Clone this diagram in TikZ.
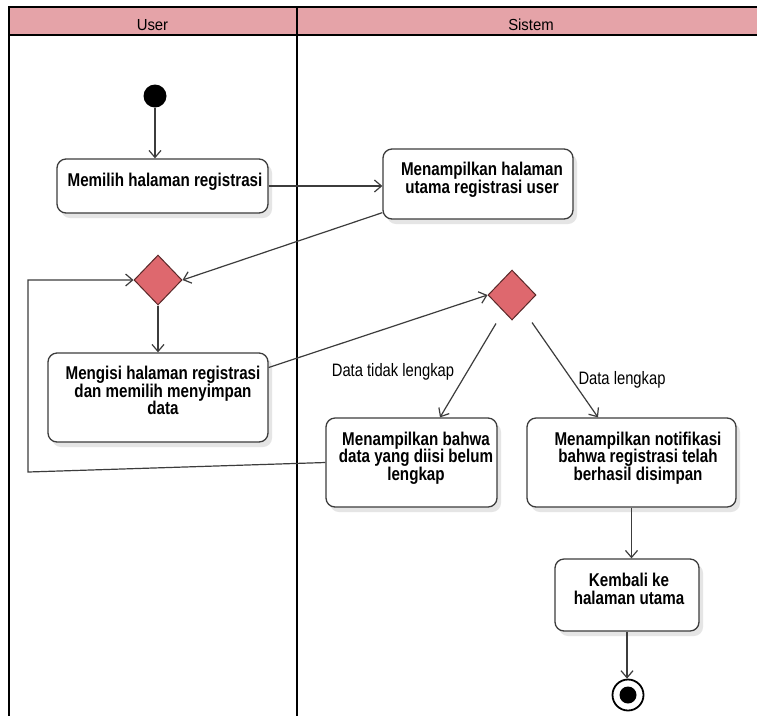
\documentclass[tikz,border=0pt]{standalone}
\usepackage{fontspec}
\setmainfont{Liberation Sans}
\newfontfamily\actfont[FakeStretch=0.82]{Liberation Sans}
\newfontfamily\guardfont[FakeStretch=0.82]{Liberation Sans}
\newfontfamily\lanefont[FakeStretch=0.93]{Liberation Sans}
\usetikzlibrary{arrows.meta,shapes.geometric,shadows}

\definecolor{lanepink}{RGB}{229,163,168}
\definecolor{decred}{RGB}{222,104,110}
\definecolor{decedge}{RGB}{90,40,40}
\definecolor{edgegray}{RGB}{60,60,60}

\begin{document}
\begin{tikzpicture}[x=1pt,y=-1pt,
  actbox/.style={draw=edgegray, line width=1.3pt, rounded corners=9pt, fill=white,
    inner sep=0pt,
    drop shadow={shadow xshift=4pt, shadow yshift=-5pt, fill=black!10, opacity=1}},
  acttext/.style={font={\actfont\bfseries\fontsize{18.5pt}{17.5pt}\selectfont},
    align=center, inner sep=0pt},
  decision/.style={diamond, draw=decedge, line width=1pt, fill=decred,
    inner sep=0pt, minimum width=48pt, minimum height=50pt},
  guard/.style={font={\guardfont\fontsize{18pt}{20pt}\selectfont}, inner sep=0pt, anchor=base},
  lanetitle/.style={font={\lanefont\fontsize{16pt}{18pt}\selectfont}, inner sep=0pt, anchor=base},
  flow/.style={draw=edgegray, line width=1.2pt,
    -{Straight Barb[length=7pt,width=12pt,line width=1.2pt]}},
  plainflow/.style={draw=edgegray, line width=1.2pt}
]
\useasboundingbox (0,0) rectangle (757,716);
\fill[white] (0,0) rectangle (757,716);

% swimlane header and borders
\fill[lanepink] (9,7) rectangle (757,35);
\draw[line width=2pt] (757,7) -- (9,7) -- (9,716);
\draw[line width=2.5pt] (9,35) -- (757,35);
\draw[line width=2pt] (297,7) -- (297,716);
\node[lanetitle] (laneuser) at (152.5,30) {User};
\node[lanetitle] (lanesistem) at (531,30) {Sistem};

% initial and final states
\node[circle, fill=black, minimum size=23pt, inner sep=0pt] (start) at (155,96) {};
\node[circle, draw=black, line width=1.8pt, fill=white, minimum size=31pt, inner sep=0pt] (fin) at (628,695) {};
\fill[black] (fin.center) circle[radius=8.5pt];

% activities
\node[actbox, minimum width=211pt, minimum height=54pt] (b1) at (162.5,186) {};
\node[acttext] (b1t) at (165,182) {Memilih halaman registrasi};

\node[actbox, minimum width=190pt, minimum height=70pt] (b2) at (478,184) {};
\node[acttext] (b2t) at (482,180) {Menampilkan halaman\\utama registrasi user};

\node[actbox, minimum width=220pt, minimum height=89pt] (b3) at (158,397.5) {};
\node[acttext] (b3t) at (163,390.5) {Mengisi halaman registrasi\\dan memilih menyimpan\\data};

\node[actbox, minimum width=171pt, minimum height=89pt] (b4) at (411.5,462.5) {};
\node[acttext] (b4t) at (416,458) {Menampilkan bahwa\\data yang diisi belum\\lengkap};

\node[actbox, minimum width=209pt, minimum height=89pt] (b5) at (631.5,462.5) {};
\node[acttext] (b5t) at (638,458) {Menampilkan notifikasi\\bahwa registrasi telah\\berhasil disimpan};

\node[actbox, minimum width=144pt, minimum height=72pt] (b6) at (627,595) {};
\node[acttext] (b6t) at (629,589) {Kembali ke\\halaman utama};

% decisions
\node[decision] (d1) at (158,280) {};
\node[decision] (d2) at (512,295) {};

% guards
\node[guard] (gno) at (393,376) {Data tidak lengkap};
\node[guard] (gyes) at (622,384) {Data lengkap};

% control flow
\draw[flow] (start.south) -- (start.south |- b1.north);
\draw[flow] (b1.east) -- (b1.east -| b2.west);
\draw[flow] ([yshift=7pt]b2.south west) -- (d1.east);
\draw[flow] (d1.south) -- (d1.south |- b3.north);
\draw[flow] ([yshift=30pt]b3.east) -- (d2.west);
\draw[flow] ([xshift=-16pt,yshift=-3pt]d2.south) -- ([xshift=28.5pt]b4.north);
\draw[flow] ([xshift=20pt,yshift=-2pt]d2.south) -- ([xshift=-33.5pt]b5.north);
\coordinate (loopbottom) at (28,472);
\coordinate (looptop) at (loopbottom |- d1.west);
\draw[flow] (b4.west) -- (loopbottom) -- (looptop) -- (d1.west);
\draw[flow] (b5.south) -- (b5.south |- b6.north);
\draw[flow] (b6.south) -- (b6.south |- fin.north);
\end{tikzpicture}
\end{document}
